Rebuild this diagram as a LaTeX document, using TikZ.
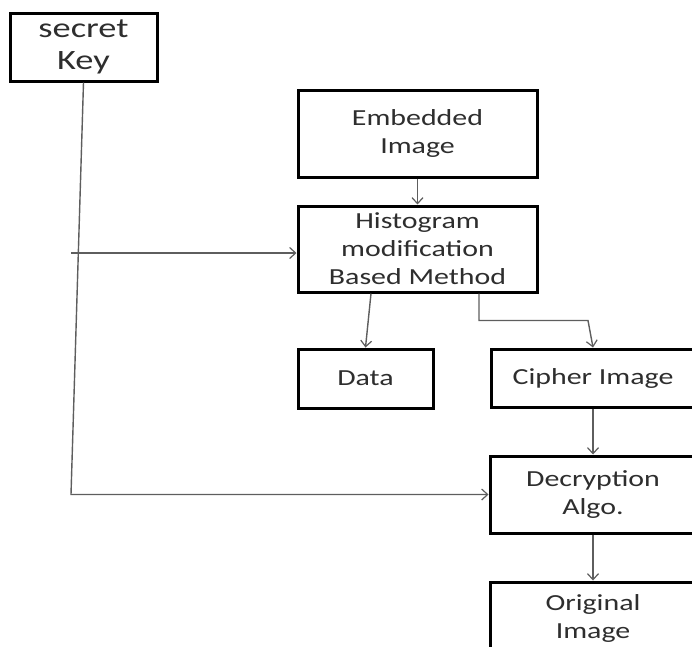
\documentclass[tikz,border=0pt]{standalone}
\usepackage{fontspec}
\setmainfont{Carlito}[FakeStretch=1.3]
\usetikzlibrary{arrows.meta,positioning,calc}
\definecolor{txtgray}{HTML}{2E2E2E}
\definecolor{linegray}{HTML}{5E5E5E}

\begin{document}
\begin{tikzpicture}[x=1pt,y=-1pt,
                        box/.style={draw=black,line width=3pt,fill=white,align=center,
                                text=txtgray,font=\fontsize{23}{28}\selectfont,inner sep=0pt},
                        conn/.style={draw=linegray,line width=1.4pt},
                        >={Straight Barb[length=6pt,width=11pt,line width=1.2pt]}]
                \useasboundingbox (0,0) rectangle (692,646);
                \clip (0,0) rectangle (692,646);
                \node[box,minimum width=147pt,minimum height=68pt,
                        font=\fontsize{28}{33}\selectfont] (key) at (83.5,47) {secret\\[-1pt]Key};
                \node[box,minimum width=239pt,minimum height=87pt] (embed) at (417.5,133.5) {Embedded\\Image};
                \node[box,minimum width=239pt,minimum height=86pt] (hist) at (417.5,249) {Histogram\\modification\\Based Method};
                \node[box,minimum width=135pt,minimum height=59pt] (data) at (365.5,378.5) {Data};
                \node[box,minimum width=204pt,minimum height=58pt] (cipher) at (593,378) {Cipher Image};
                \node[box,minimum width=206pt,minimum height=77pt] (decrypt) at (593,494.5) {Decryption\\Algo.};
                \node[box,minimum width=206pt,minimum height=72pt] (orig) at (593,618) {Original\\Image};
                \coordinate (kcorner) at (71,494.5);
                \coordinate (kstub) at (71,253);
                % key goes to both stages
                \draw[conn,->] (key.south) -- (kcorner) -- (decrypt.west);
                \draw[conn,->] (kstub) -- (kstub -| hist.west);
                \draw[conn,->] (embed.south) -- (hist.north);
                \draw[conn,->] ([xshift=5.5pt]hist.south -| data.north) -- (data.north);
                \draw[conn,->] ([xshift=61.5pt]hist.south) |- ([xshift=-5pt,yshift=27pt]cipher.north) -- (cipher.north);
                \draw[conn,->] (cipher.south) -- (decrypt.north);
                \draw[conn,->] (decrypt.south) -- (orig.north);
\end{tikzpicture}
\end{document}
